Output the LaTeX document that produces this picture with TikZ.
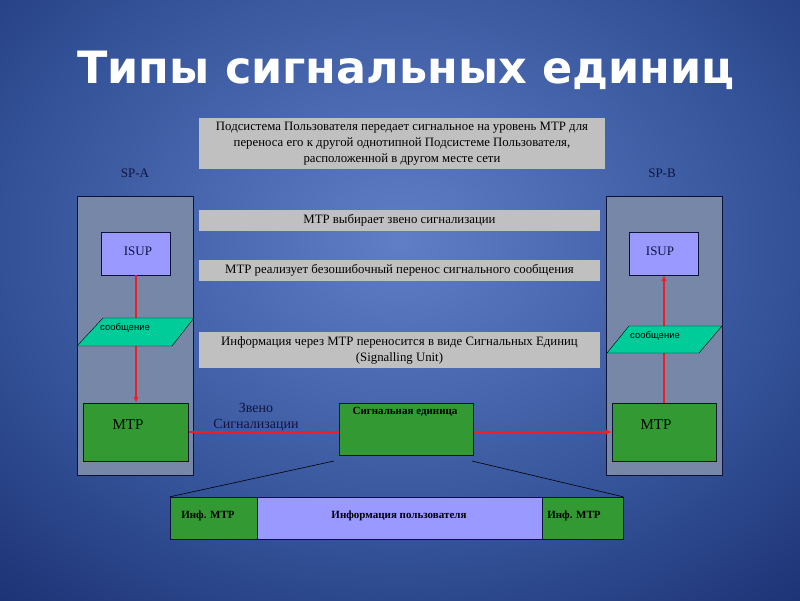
\documentclass[tikz,border=0pt]{standalone}
\usepackage{fontspec}
\setmainfont{Liberation Serif}
\setsansfont{Liberation Sans}
\newfontfamily\titlefont{DejaVu Sans}
\usetikzlibrary{arrows.meta}

\definecolor{bgin}{RGB}{96,126,198}
\definecolor{bgmid}{RGB}{50,80,150}
\definecolor{bgout}{RGB}{24,44,108}
\definecolor{noteg}{RGB}{192,192,192}
\definecolor{spfill}{RGB}{118,135,168}
\definecolor{edgec}{RGB}{14,18,56}
\definecolor{isupc}{RGB}{153,153,255}
\definecolor{mtpc}{RGB}{51,153,51}
\definecolor{msgc}{RGB}{0,204,153}
\definecolor{linkc}{RGB}{240,30,30}
\definecolor{navyc}{RGB}{16,20,64}

\pgfdeclareradialshading{bgglow}{\pgfpoint{0bp}{0bp}}{color(0bp)=(bgin); color(22bp)=(bgmid); color(36bp)=(bgout); color(50bp)=(bgout)}

\tikzset{
  note/.style={fill=noteg, inner sep=0pt, align=center, font=\fontsize{12.8}{16}\selectfont},
  spbox/.style={draw=edgec, fill=spfill, inner sep=0pt, minimum width=116pt, minimum height=279pt},
  isupbox/.style={draw=edgec, fill=isupc, inner sep=0pt, minimum width=69pt, minimum height=43pt},
  mtpbox/.style={draw=edgec, fill=mtpc, inner sep=0pt, minimum height=58pt},
  unitbox/.style={draw=edgec, inner sep=0pt, minimum height=42pt},
  msgshape/.style={draw=black, fill=msgc},
  link/.style={draw=linkc, line width=1.8pt, -{Latex[length=6pt,width=5.5pt]}},
  boxtxt/.style={text=navyc, font=\fontsize{13}{15}\selectfont},
  boldtxt/.style={text=black, font=\bfseries\fontsize{11}{13}\selectfont}
}

\begin{document}
\begin{tikzpicture}[x=1pt,y=-1pt]
  \useasboundingbox (0,0) rectangle (800,600);
  \begin{scope}
    \clip (0,0) rectangle (800,600);
    \shade[shading=bgglow] (-60,-120) rectangle (860,600);
  \end{scope}

  \node[text=white, font=\titlefont\bfseries\fontsize{44.5}{50}\selectfont] (title) at (406,70) {Типы сигнальных единиц};

  % stations
  \draw
    (135,335.5) node[spbox] (spA){}
    (664,335.5) node[spbox] (spB){}
    (135,173) node[boxtxt] (spAlbl){SP-A}
    (662,173) node[boxtxt] (spBlbl){SP-B};

  % notes
  \draw
    (402,143.5) node[note, minimum width=406pt, minimum height=51pt] (n1)
      {Подсистема Пользователя передает сигнальное на уровень МТР для\\
       переноса его к другой однотипной Подсистеме Пользователя,\\
       расположенной в другом месте сети}
    (399.5,220.5) node[note, minimum width=401pt, minimum height=21pt] (n2)
      {МТР выбирает звено сигнализации}
    (399.5,270.5) node[note, minimum width=401pt, minimum height=21pt] (n3)
      {МТР реализует безошибочный перенос сигнального сообщения}
    (399.5,350) node[note, minimum width=401pt, minimum height=36pt] (n4)
      {Информация через МТР переносится в виде Сигнальных Единиц\\
       (Signalling Unit)};

  \draw
    (136,253.5) node[isupbox] (isupA){}
    (664,253.5) node[isupbox] (isupB){}
    (136,432) node[mtpbox, minimum width=105pt] (mtpA){}
    (664,432) node[mtpbox, minimum width=104pt] (mtpB){}
    (138,251) node[boxtxt] (isupAt){ISUP}
    (660,251) node[boxtxt] (isupBt){ISUP}
    (128,425) node[text=black, font=\fontsize{15}{17}\selectfont] (mtpAt){MTP}
    (656,425) node[text=black, font=\fontsize{15}{17}\selectfont] (mtpBt){MTP};

  \begin{scope}[link]
    \draw (isupA.south) to (mtpA.north);
    \draw (mtpB.north) to (isupB.south);
    \draw (mtpA.east) to (mtpB.west);
  \end{scope}

  % messages
  \draw[msgshape] (77,346) -- ++(26,-28) -- ++(91,0) -- ++(-22,28) -- cycle;
  \draw[msgshape] (607,353) -- ++(22,-27) -- ++(93,0) -- ++(-23,27) -- cycle;
  \draw
    (125,328) node[text=black, font=\sffamily\fontsize{9.5}{11}\selectfont] (msgA){сообщение}
    (655,336) node[text=black, font=\sffamily\fontsize{9.5}{11}\selectfont] (msgB){сообщение};

  \node[text=navyc, align=center, font=\fontsize{14}{16}\selectfont] (linklbl) at (256,417) {Звено\\Сигнализации};

  % signal unit
  \node[draw=edgec, fill=mtpc, minimum width=134pt, minimum height=52pt, inner sep=0pt] (unit) at (406,429) {};
  \node[boldtxt] (unitt) at (405,412) {Сигнальная единица};

  \draw
    (213.5,518) node[unitbox, fill=mtpc, minimum width=87pt] (infoL){}
    (399.5,518) node[unitbox, fill=isupc, minimum width=285pt] (user){}
    (582.5,518) node[unitbox, fill=mtpc, minimum width=81pt] (infoR){}
    (208,516) node[boldtxt] (infoLt){Инф. МТР}
    (399,516) node[boldtxt] (usert){Информация пользователя}
    (574,516) node[boldtxt] (infoRt){Инф. МТР};

  \coordinate (cutL) at (334,461);
  \coordinate (cutR) at (472,461);
  \begin{scope}[-]
    \draw[black, line width=0.6pt] (cutL) to (infoL.north west);
    \draw[black, line width=0.6pt] (cutR) to (infoR.north east);
  \end{scope}
\end{tikzpicture}
\end{document}
